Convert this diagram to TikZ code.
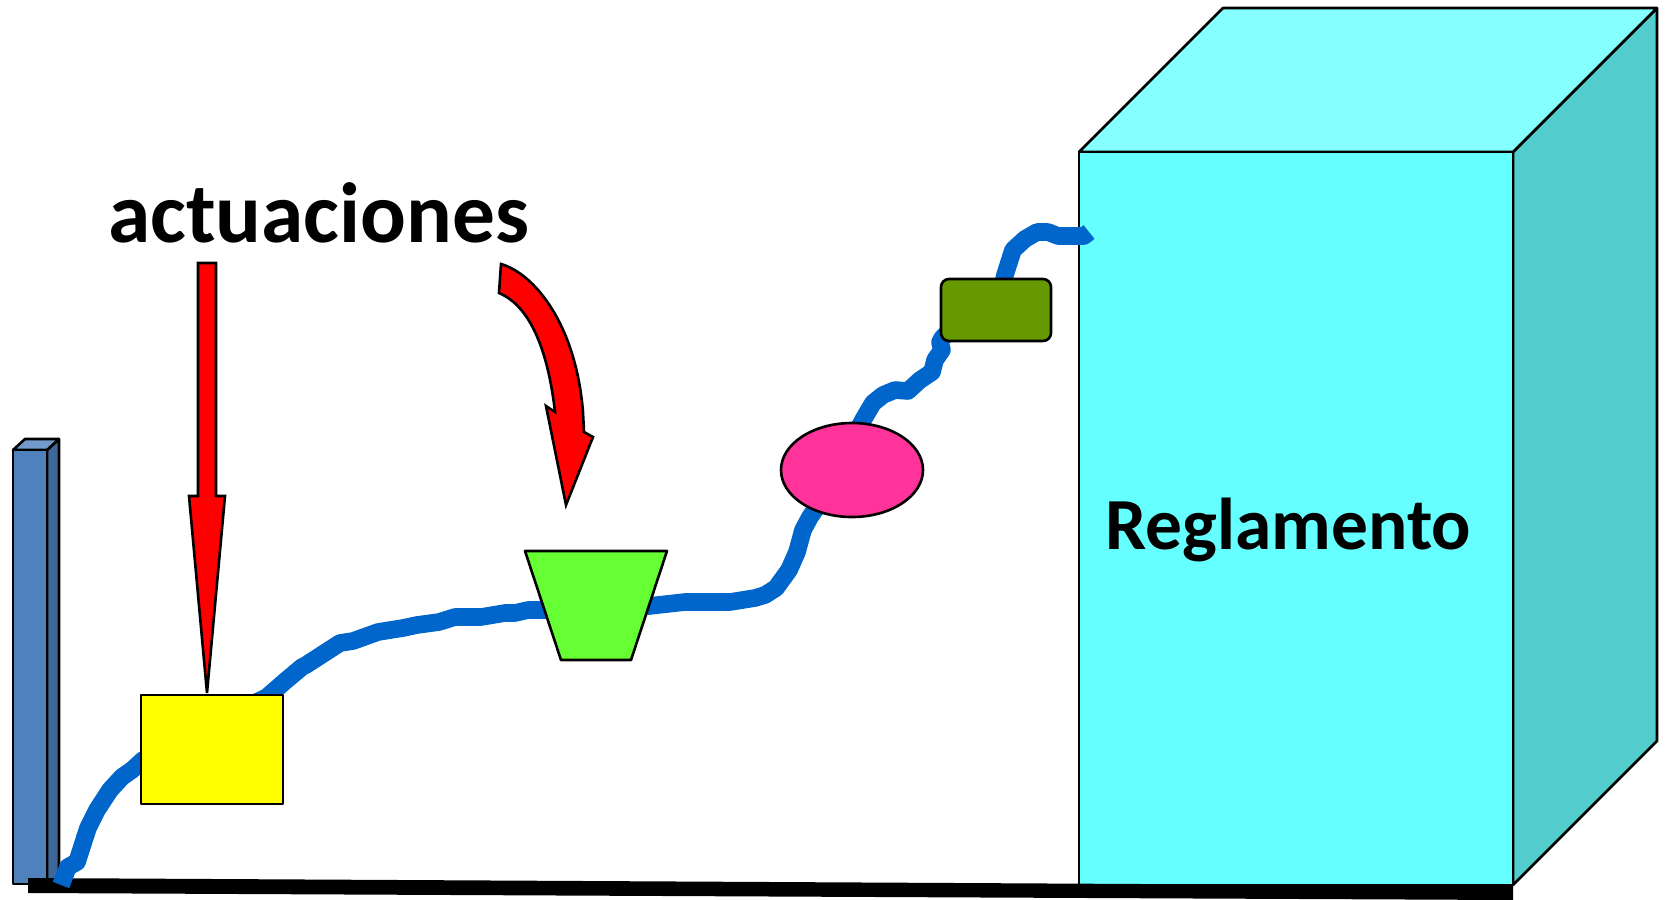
\documentclass[tikz,border=0pt]{standalone}
\usepackage{fontspec}
\usetikzlibrary{shapes.geometric}
\setmainfont{Carlito}
\definecolor{wireblue}{HTML}{0066CC}
\definecolor{cubefront}{HTML}{66FFFF}
\definecolor{cubetop}{HTML}{85FFFF}
\definecolor{cubeside}{HTML}{52CCCC}
\definecolor{pilfront}{HTML}{4F81BD}
\definecolor{piltop}{HTML}{729ACA}
\definecolor{pilside}{HTML}{3F6797}
\definecolor{trapgreen}{HTML}{66FF33}
\definecolor{elpink}{HTML}{FF3399}
\definecolor{boxgreen}{HTML}{669900}
\definecolor{boxyellow}{HTML}{FFFF00}
\definecolor{arrowred}{HTML}{FF0000}
\tikzset{
  outl/.style={draw=black,line width=1.3pt,line join=round,outer sep=0pt},
  wire/.style={draw=wireblue,line width=8.8pt,line join=round},
  redarrow/.style={outl,fill=arrowred,line join=miter},
  biglabel/.style={anchor=base west,inner sep=0pt,font=\bfseries}
}
\begin{document}
\begin{tikzpicture}[x=0.5pt,y=-0.5pt]
\useasboundingbox (0,0) rectangle (1667,900);
% pillar
\filldraw[outl,fill=pilside] (47,450) -- (59,439) -- (59,878) -- (47,884) -- cycle;
\filldraw[outl,fill=piltop] (13,450) -- (25,439) -- (59,439) -- (47,450) -- cycle;
\filldraw[outl,fill=pilfront] (13,450) rectangle (47,884);
% cube
\filldraw[outl,fill=cubeside] (1513,152) -- (1657,8) -- (1657,741) -- (1513,885) -- cycle;
\filldraw[outl,fill=cubetop] (1079,152) -- (1223,8) -- (1657,8) -- (1513,152) -- cycle;
\node[outl,fill=cubefront,rectangle,minimum width=217pt,minimum height=366.5pt,inner sep=0pt,anchor=north west] (reglamento) at (1079,152) {};
\node[biglabel,font=\bfseries\fontsize{36.7}{36.7}\selectfont] (reglamentotxt) at (1105,549) {Reglamento};
% base
\fill[black] (28,878) -- (1513,886) -- (1513,900) -- (28,893) -- cycle;
% wire
\coordinate (wirestart) at (61,885);
\coordinate (wireend) at (1089,232);
\draw[wire] (wirestart) -- (68,867) -- (77,862) -- (88,828) -- (97,810) -- (110,790) -- (122,777) -- (132,770) -- (143,760)
 -- (200,730) -- (267,697) -- (283,683) -- (302,667) -- (306,665) -- (340,643) -- (353,641) -- (378,632) -- (403,628) -- (417,625) -- (439,622) -- (455,617) -- (481,617) -- (505,613) -- (515,613) -- (528,610) -- (546,610)
 -- (649,606) -- (685,602) -- (730,602) -- (755,598) -- (765,595) -- (776,588) -- (789,570) -- (797,552) -- (803,530) -- (810,517) -- (817,507)
 -- (863,420) -- (873,403) -- (883,395) -- (895,390) -- (908,391) -- (920,380) -- (932,372) -- (935,360) -- (942,350) -- (940,342) -- (943,337)
 -- (1000,295) -- (1005,275) -- (1013,250) -- (1025,239) -- (1037,232) -- (1048,232) -- (1058,236) -- (1078,236) -- (1084,236) -- (wireend);
% nodes on the wire
\node[outl,fill=boxyellow,rectangle,minimum width=71pt,minimum height=54.5pt,inner sep=0pt,anchor=north west] (yellowbox) at (141,695) {};
\filldraw[outl,fill=trapgreen] (525,551) -- (667,551) -- (631,660) -- (561,660) -- cycle;
\node[outl,fill=elpink,ellipse,minimum width=71pt,minimum height=47pt,inner sep=0pt] (pinkell) at (852,470) {};
\node[outl,fill=boxgreen,rectangle,rounded corners=4pt,minimum width=55pt,minimum height=31pt,inner sep=0pt,anchor=north west] (greenbox) at (941,279) {};
% arrows
\filldraw[redarrow] (198,263) -- (216,263) -- (216,496) -- (225,496) -- (207,693) -- (189,496) -- (198,496) -- cycle;
\filldraw[redarrow] (501,264) .. controls (535,274) and (576,325) .. (583,412) -- (584,432) -- (593,437) -- (566,505) -- (546,406) -- (555,412) .. controls (548,350) and (530,306) .. (499,293) -- cycle;
% title
\node[biglabel,font=\bfseries\fontsize{42.7}{42.7}\selectfont] (actuaciones) at (108,242) {actuaciones};
\end{tikzpicture}
\end{document}
